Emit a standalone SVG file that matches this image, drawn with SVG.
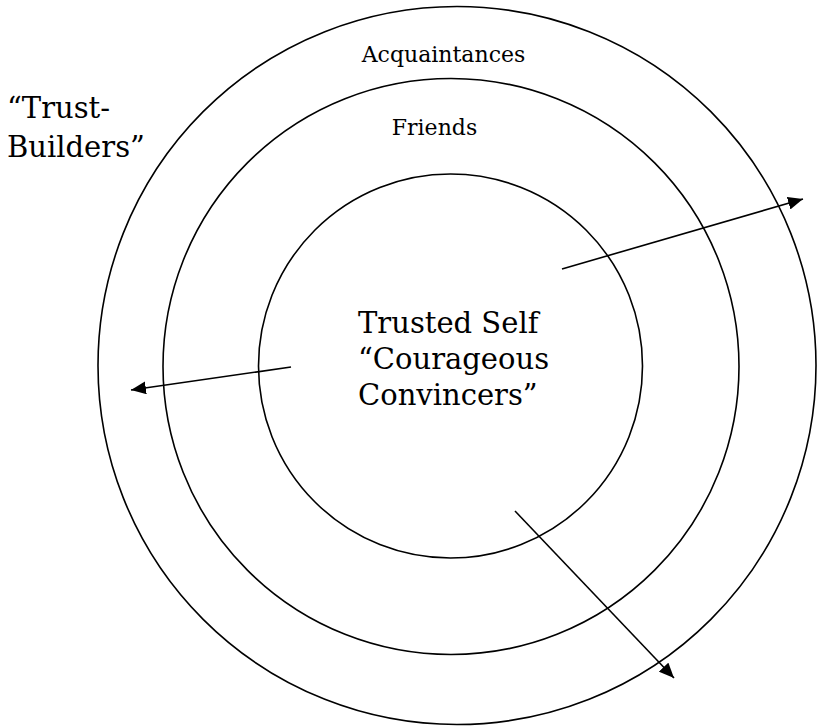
<svg xmlns="http://www.w3.org/2000/svg" width="817" height="726" viewBox="0 0 817 726">
<style>
.ring{fill:none;stroke:#000;stroke-width:1.6}
.arrow{fill:none;stroke:#000;stroke-width:1.6;marker-end:url(#head)}
.t{font-family:"DejaVu Serif","Liberation Serif",serif;fill:#000}
.big{font-size:29px}
.small{font-size:22px}
</style>
<defs>
<marker id="head" markerUnits="userSpaceOnUse" markerWidth="16" markerHeight="13" refX="15" refY="6.5" orient="auto">
<path d="M0,0 L15,6.5 L0,13 z" fill="#000"/>
</marker>
</defs>
<rect width="817" height="726" fill="#fff"/>
<g id="acquaintances">
<circle class="ring" cx="457" cy="365.5" r="359"/>
<text class="t small" x="443.5" y="62" text-anchor="middle">Acquaintances</text>
</g>
<g id="friends">
<circle class="ring" cx="451" cy="366.5" r="288"/>
<text class="t small" x="434.5" y="135" text-anchor="middle">Friends</text>
</g>
<g id="trusted-self">
<circle class="ring" cx="450.5" cy="366" r="192"/>
<text class="t big" x="358" y="333">Trusted Self</text>
<text class="t big" x="358" y="369">“Courageous</text>
<text class="t big" x="358" y="405">Convincers”</text>
</g>
<g id="trust-builders">
<text class="t big" x="7" y="118">“Trust-</text>
<text class="t big" x="7" y="157">Builders”</text>
</g>
<g id="connectors">
<line class="arrow" x1="562" y1="269" x2="803" y2="199"/>
<line class="arrow" x1="291" y1="367" x2="131" y2="390"/>
<line class="arrow" x1="515" y1="511" x2="674" y2="678"/>
</g>
</svg>
